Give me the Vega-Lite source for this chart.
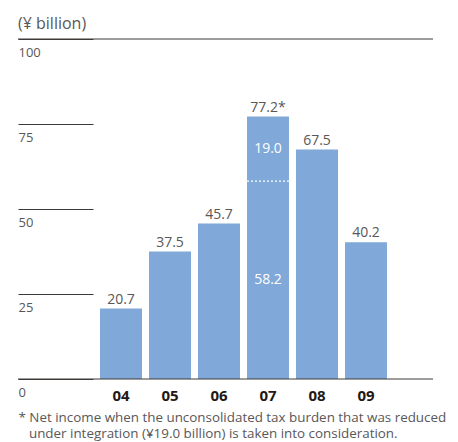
{
  "$schema": "https://vega.github.io/schema/vega-lite/v6.json",
  "width": 415,
  "height": 340,
  "autosize": "none",
  "padding": {"left": 18, "top": 39, "right": 25, "bottom": 63},
  "background": "white",
  "config": {"font": "Open Sans", "view": {"stroke": null}},
  "title": {"text": "(¥ billion)", "anchor": "start", "frame": "group", "fontSize": 16, "fontWeight": "normal", "color": "#595757", "baseline": "alphabetic", "offset": -6},
  "datasets": {
    "segments": [
      {"year": "04", "seg": 1, "value": 20.7},
      {"year": "05", "seg": 1, "value": 37.5},
      {"year": "06", "seg": 1, "value": 45.7},
      {"year": "07", "seg": 1, "value": 58.2, "inner": "58.2"},
      {"year": "07", "seg": 2, "value": 19.0, "inner": "19.0"},
      {"year": "08", "seg": 1, "value": 67.5},
      {"year": "09", "seg": 1, "value": 40.2}
    ],
    "totals": [
      {"year": "04", "value": 20.7, "label": "20.7"},
      {"year": "05", "value": 37.5, "label": "37.5"},
      {"year": "06", "value": 45.7, "label": "45.7"},
      {"year": "07", "value": 77.2, "label": "77.2*"},
      {"year": "08", "value": 67.5, "label": "67.5"},
      {"year": "09", "value": 40.2, "label": "40.2"}
    ],
    "lines": [{"value": 0}, {"value": 100}]
  },
  "encoding": {
    "y": {
      "field": "value",
      "type": "quantitative",
      "scale": {"domain": [0, 100], "nice": false},
      "axis": {
        "title": null,
        "orient": "left",
        "offset": -75,
        "domain": false,
        "grid": false,
        "ticks": true,
        "tickSize": 75,
        "tickColor": "#3e3a39",
        "tickWidth": 1,
        "values": [0, 25, 50, 75, 100],
        "labelAlign": "left",
        "labelBaseline": "middle",
        "labelPadding": 0,
        "labelOffset": 13,
        "labelFontSize": 13,
        "labelColor": "#595757",
        "labelFlush": false,
        "labelOverlap": false
      }
    }
  },
  "layer": [
    {
      "data": {"name": "segments"},
      "mark": {"type": "bar", "color": "#80a8d8"},
      "encoding": {
        "x": {
          "field": "year",
          "type": "nominal",
          "scale": {"type": "band", "range": [78.5, 372.5], "paddingInner": 0.142857, "paddingOuter": 0.0714286},
          "axis": {
            "title": ["* Net income when the unconsolidated tax burden that was reduced", "\u200b\u00a0\u00a0\u00a0under integration (¥19.0 billion) is taken into consideration."],
            "domain": false,
            "ticks": false,
            "tickSize": 0,
            "labelPadding": 16,
            "labelAngle": 0,
            "labelBaseline": "middle",
            "labelFontSize": 15,
            "labelFontWeight": "bold",
            "labelColor": "#231815",
            "titleX": 0,
            "titleY": 42,
            "titleAlign": "left",
            "titleAnchor": "start",
            "titleBaseline": "alphabetic",
            "titleFontSize": 13.4,
            "titleFontWeight": "normal",
            "titleColor": "#595757",
            "titleLineHeight": 16
          }
        },
        "detail": {"field": "seg"},
        "order": {"field": "seg", "type": "quantitative"}
      }
    },
    {
      "data": {"name": "segments"},
      "transform": [{"filter": "datum.year == '07' && datum.seg == 1"}],
      "mark": {"type": "rule", "color": "white", "strokeWidth": 1.3, "strokeDash": [2, 2]},
      "encoding": {
        "x": {"field": "year", "type": "nominal", "bandPosition": 0},
        "x2": {"field": "year", "bandPosition": 1}
      }
    },
    {
      "data": {"name": "lines"},
      "mark": {"type": "rule", "color": "#3e3a39", "strokeWidth": 1},
      "encoding": {}
    },
    {
      "data": {"name": "totals"},
      "mark": {"type": "text", "baseline": "alphabetic", "dy": -5, "fontSize": 14, "color": "#595757"},
      "encoding": {
        "x": {"field": "year", "type": "nominal"},
        "text": {"field": "label"}
      }
    },
    {
      "data": {"name": "segments"},
      "transform": [{"filter": "datum.year == '07'"}],
      "mark": {"type": "text", "baseline": "middle", "fontSize": 14, "color": "white"},
      "encoding": {
        "x": {"field": "year", "type": "nominal"},
        "y": {"field": "value", "type": "quantitative", "stack": "zero", "bandPosition": 0.5},
        "detail": {"field": "seg"},
        "order": {"field": "seg", "type": "quantitative"},
        "text": {"field": "inner"}
      }
    }
  ]
}
